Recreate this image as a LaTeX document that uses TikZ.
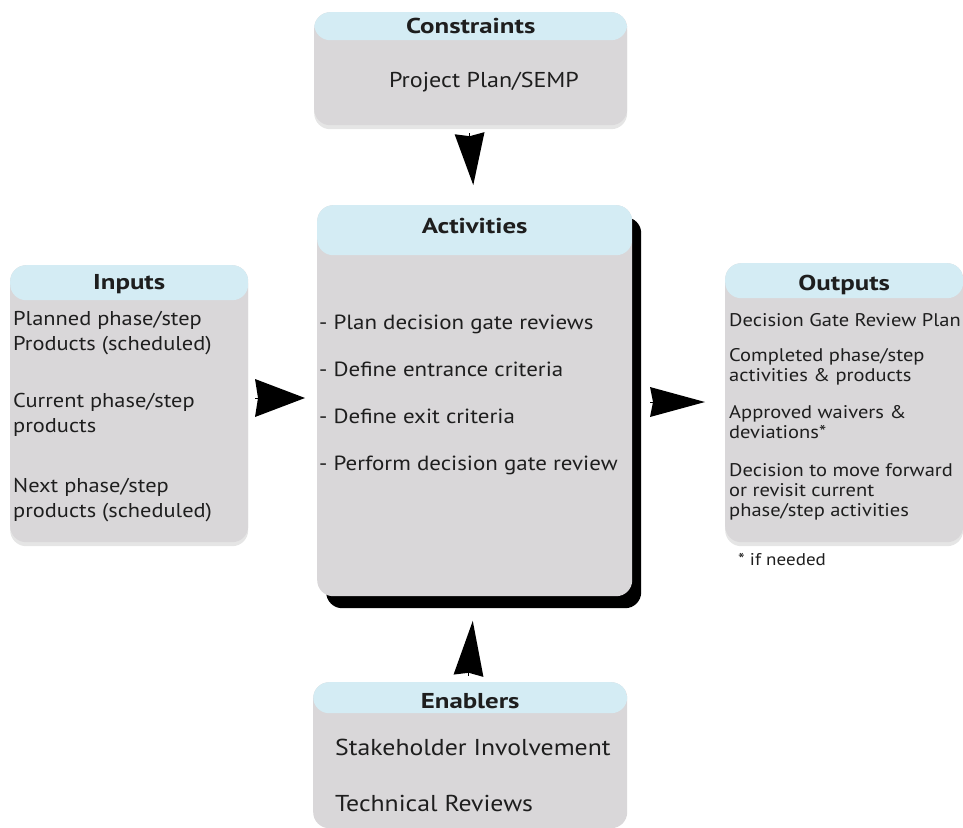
\documentclass[tikz,border=0pt]{standalone}
\usepackage{fontspec}
\setmainfont{PT Sans}[FakeStretch=1.12]
\newfontfamily\headfont{PT Sans Bold}[FakeStretch=1.25]
\usetikzlibrary{arrows.meta,shadows}
\definecolor{hdr}{RGB}{212,236,244}
\definecolor{panelfill}{RGB}{217,215,217}
\definecolor{ink}{RGB}{30,30,30}
\tikzset{
  panel/.style={fill=panelfill, rounded corners=16pt, inner sep=0pt, anchor=north west,
    path picture={\fill[hdr] ([yshift=1pt]path picture bounding box.north west)
      rectangle ([yshift=-#1]path picture bounding box.north east);}},
  softshadow/.style={general shadow={fill=black!10, shadow yshift=-4pt}},
  hardshadow/.style={general shadow={fill=black, shadow xshift=9pt, shadow yshift=-12pt}},
  title/.style={anchor=base, inner sep=0pt, text=ink, font=\headfont\fontsize{21.5}{24}\selectfont},
  item/.style={anchor=base west, inner sep=0pt, text=ink, font=\fontsize{20}{24}\selectfont},
  actitem/.style={anchor=base west, inner sep=0pt, text=ink, font=\fontsize{20.5}{24}\selectfont},
  smallitem/.style={anchor=base west, inner sep=0pt, text=ink, font=\fontsize{18.3}{20}\selectfont},
  bigitem/.style={anchor=base west, inner sep=0pt, text=ink, font=\fontsize{23}{26}\selectfont},
  flow/.style={line width=0pt, draw=black,
    -{Stealth[length=#1, inset=3pt, width=30pt]}},
}
\begin{document}
\begin{tikzpicture}[x=1pt,y=-1pt]
\useasboundingbox (0,0) rectangle (963,827);

% panels
\node[panel=28pt, softshadow, minimum width=313pt, minimum height=113pt] (cons) at (314,12) {};
\node[panel=50pt, hardshadow, minimum width=315pt, minimum height=391pt] (act) at (317,205) {};
\node[panel=35pt, softshadow, minimum width=238pt, minimum height=277pt] (inp) at (10,265) {};
\node[panel=35pt, softshadow, minimum width=238pt, minimum height=279pt] (out) at (725,263) {};
\node[panel=31pt, minimum width=314pt, minimum height=146pt] (enb) at (313,682) {};

% titles
\node[title] (consT) at (cons.north |- 0,33) {Constraints};
\node[title] (actT) at (act.north |- 0,233) {Activities};
\node[title] (inpT) at (inp.north |- 0,289) {Inputs};
\node[title] (outT) at (out.north |- 0,290) {Outputs};
\node[title] (enbT) at (enb.north |- 0,708) {Enablers};

% constraints
\node[bigitem, anchor=base, font=\fontsize{21.5}{26}\selectfont] (c1) at (484,87) {Project Plan/SEMP};

% activities
\node[actitem] (a1) at (319,329) {- Plan decision gate reviews};
\node[actitem] (a2) at (319,376) {- Define entrance criteria};
\node[actitem] (a3) at (319,423) {- Define exit criteria};
\node[actitem] (a4) at (319,470) {- Perform decision gate review};

% inputs
\node[item] (i1) at (13,325) {Planned phase/step};
\node[item] (i2) at (13,350) {Products (scheduled)};
\node[item] (i3) at (13,407) {Current phase/step};
\node[item] (i4) at (13,432) {products};
\node[item] (i5) at (13,492) {Next phase/step};
\node[item] (i6) at (13,517) {products (scheduled)};

% outputs
\node[smallitem] (o1) at (729,326) {Decision Gate Review Plan};
\node[smallitem] (o2) at (729,361) {Completed phase/step};
\node[smallitem] (o3) at (729,381) {activities \& products};
\node[smallitem] (o4) at (729,418) {Approved waivers \&};
\node[smallitem] (o5) at (729,438) {deviations*};
\node[smallitem] (o6) at (729,476) {Decision to move forward};
\node[smallitem] (o7) at (729,496) {or revisit current};
\node[smallitem] (o8) at (729,516) {phase/step activities};
\node[anchor=base west, inner sep=0pt, text=ink, font=\fontsize{17}{20}\selectfont] (note) at (738,565) {* if needed};

% enablers
\node[bigitem] (e1) at (335,755) {Stakeholder Involvement};
\node[bigitem] (e2) at (335,811) {Technical Reviews};

% flow arrows
\draw[flow=52pt, shorten <=8pt, shorten >=20pt] (cons.south -| 469,0) -- (469,205 -| act.north);
\draw[flow=50pt, shorten <=7pt, shorten >=12pt, -{Stealth[length=50pt, inset=3pt, width=38pt]}] (inp.east |- 0,398) -- (act.west |- 0,398);
\draw[flow=55pt, shorten <=18pt, shorten >=20pt] (act.east |- 0,402) -- (out.west |- 0,402);
\draw[flow=55pt, shorten <=7pt, shorten >=25pt] (enb.north -| 468,0) -- (468,596 -| act.south);
\end{tikzpicture}
\end{document}
